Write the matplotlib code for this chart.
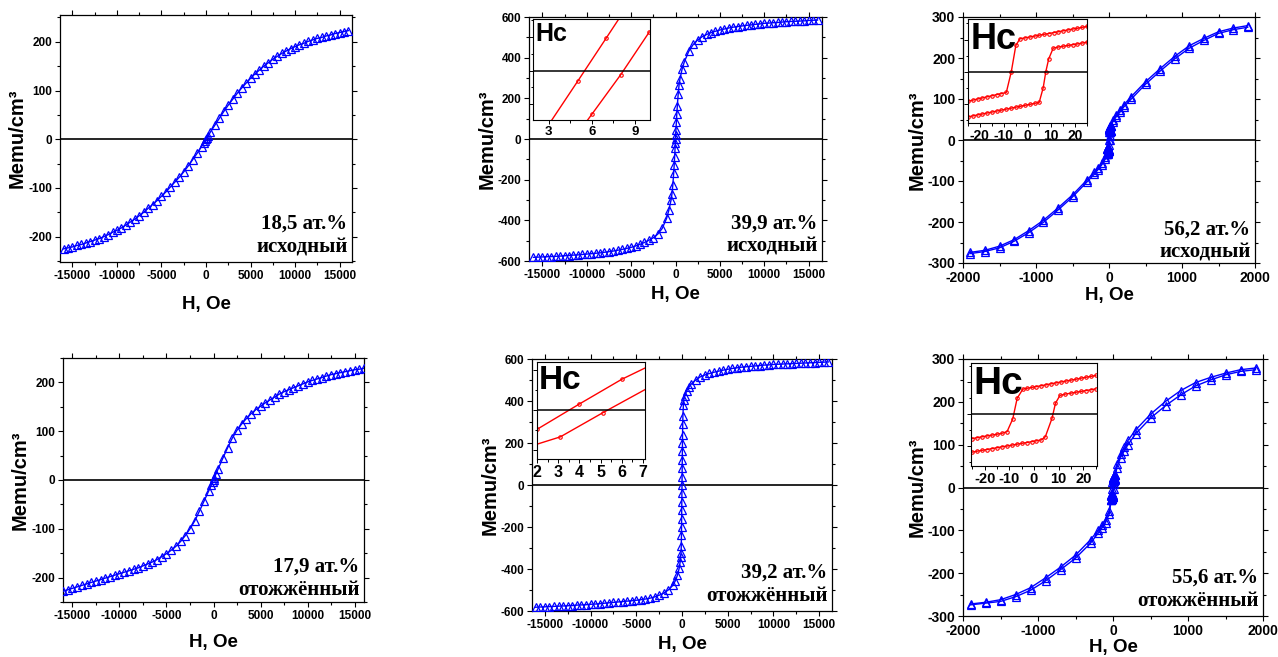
import matplotlib
matplotlib.use("Agg")
import matplotlib.pyplot as plt
from matplotlib.ticker import MultipleLocator, AutoMinorLocator

plt.rcParams['font.family'] = ['Liberation Sans', 'DejaVu Sans']
plt.rcParams['font.weight'] = 'bold'
plt.rcParams['axes.unicode_minus'] = False

# ---------------- data ----------------
# panel 1: 18,5 at.% as-deposited
h1 = [-16000, -15500, -15000, -14500, -14000, -13500, -13000, -12500, -12000, -11500,
      -11000, -10500, -10000, -9500, -9000, -8500, -8000, -7500, -7000, -6500,
      -6000, -5500, -5000, -4500, -4000, -3500, -3000, -2500, -2000, -1500,
      -1000, -500, -250, -100, 0, 100, 250, 500, 1000, 1500,
      2000, 2500, 3000, 3500, 4000, 4500, 5000, 5500, 6000, 6500,
      7000, 7500, 8000, 8500, 9000, 9500, 10000, 10500, 11000, 11500,
      12000, 12500, 13000, 13500, 14000, 14500, 15000, 15500, 16000]
m1 = [-225, -223, -221, -218, -216, -213, -210, -207, -204, -200,
      -196, -191, -187, -182, -176, -170, -164, -157, -150, -142,
      -134, -126, -117, -108, -98, -88, -78, -67, -55, -42,
      -29, -15, -8, -3, 0, 3, 7, 15, 29, 43,
      57, 70, 82, 94, 105, 115, 125, 134, 142, 150,
      157, 164, 170, 176, 181, 186, 190, 194, 197, 201,
      204, 207, 209, 212, 214, 217, 219, 221, 223]

# panel 4: 17,9 at.% annealed
h4 = [-16000, -15500, -15000, -14500, -14000, -13500, -13000, -12500, -12000, -11500,
      -11000, -10500, -10000, -9500, -9000, -8500, -8000, -7500, -7000, -6500,
      -6000, -5500, -5000, -4500, -4000, -3500, -3000, -2500, -2000, -1500,
      -1000, -500, -250, -100, 0, 100, 250, 500, 1000, 1500,
      2000, 2500, 3000, 3500, 4000, 4500, 5000, 5500, 6000, 6500,
      7000, 7500, 8000, 8500, 9000, 9500, 10000, 10500, 11000, 11500,
      12000, 12500, 13000, 13500, 14000, 14500, 15000, 15500, 16000]
m4 = [-228, -225, -222, -219, -216, -213, -210, -207, -204, -201,
      -198, -195, -192, -189, -186, -183, -180, -176, -172, -168,
      -163, -157, -151, -144, -136, -126, -114, -100, -84, -64,
      -43, -22, -11, -4, 0, 4, 12, 23, 45, 66,
      86, 102, 115, 126, 136, 144, 151, 158, 164, 170,
      176, 181, 185, 189, 193, 197, 201, 204, 207, 210,
      213, 216, 218, 220, 222, 224, 226, 227, 229]

# panel 2: 39,9 at.% as-deposited
h2 = [-16000, -15500, -15000, -14500, -14000, -13500, -13000, -12500, -12000, -11500,
      -11000, -10500, -10000, -9500, -9000, -8500, -8000, -7500, -7000, -6500,
      -6000, -5500, -5000, -4500, -4000, -3500, -3000, -2500, -2000, -1500,
      -1000, -750, -500, -400, -300, -200, -150, -100, -50, -25,
      0, 25, 50, 100, 150, 200, 300, 400, 500, 750,
      1000, 1500, 2000, 2500, 3000, 3500, 4000, 4500, 5000, 5500,
      6000, 6500, 7000, 7500, 8000, 8500, 9000, 9500, 10000, 10500,
      11000, 11500, 12000, 12500, 13000, 13500, 14000, 14500, 15000, 15500, 16000]
m2 = [-582, -581, -580, -579, -578, -577, -576, -574, -573, -571,
      -570, -568, -566, -564, -562, -560, -557, -554, -551, -547,
      -543, -538, -533, -526, -518, -509, -498, -486, -468, -440,
      -390, -350, -300, -270, -225, -165, -130, -90, -45, -22,
      0, 22, 45, 85, 125, 160, 220, 265, 295, 345,
      380, 432, 465, 487, 503, 514, 523, 530, 536, 541,
      546, 550, 553, 556, 559, 561, 564, 566, 569, 570,
      572, 573, 575, 577, 578, 579, 580, 581, 583, 584, 585]

# panel 5: 39,2 at.% annealed
h5 = [-16000, -15500, -15000, -14500, -14000, -13500, -13000, -12500, -12000, -11500,
      -11000, -10500, -10000, -9500, -9000, -8500, -8000, -7500, -7000, -6500,
      -6000, -5500, -5000, -4500, -4000, -3500, -3000, -2500, -2000, -1500,
      -1000, -750, -500, -300, -200, -150, -100, -80, -60, -50,
      -40, -30, -20, -10, 0, 10, 20, 30, 40, 50,
      60, 80, 100, 150, 200, 300, 500, 750, 1000, 1500,
      2000, 2500, 3000, 3500, 4000, 4500, 5000, 5500, 6000, 6500,
      7000, 7500, 8000, 8500, 9000, 9500, 10000, 10500, 11000, 11500,
      12000, 12500, 13000, 13500, 14000, 14500, 15000, 15500, 16000]
m5 = [-582, -581, -580, -579, -578, -577, -576, -575, -574, -572,
      -571, -570, -568, -567, -565, -563, -561, -559, -557, -555,
      -553, -551, -549, -546, -543, -539, -533, -525, -515, -500,
      -478, -458, -430, -395, -365, -345, -322, -290, -240, -200,
      -160, -120, -80, -40, 0, 40, 80, 120, 160, 200,
      240, 290, 330, 380, 405, 425, 447, 465, 480, 500,
      515, 524, 531, 537, 542, 547, 551, 555, 558, 561,
      563, 565, 567, 569, 571, 572, 574, 575, 576, 577,
      578, 579, 580, 581, 582, 583, 584, 585, 586]

# insets of panels 2 and 5 (Hc region)
in2_a_h = [3, 5, 7, 9]
in2_a_m = [-3.2, -0.65, 1.92, 4.5]
in2_b_h = [4, 6, 8, 10]
in2_b_m = [-4.9, -2.59, -0.26, 2.28]
in5_a_h = [2, 4, 6, 8]
in5_a_m = [-1.2, 0.38, 1.92, 3.2]
in5_b_h = [1.1, 3.1, 5.1, 7.2]
in5_b_m = [-2.5, -1.67, -0.17, 1.35]

# panel 3: 56,2 at.% as-deposited, far-field points of both branches
far_pos_h = [1900, 1700, 1500, 1300, 1100, 900, 700, 500, 300, 200, 150, 100, 50]
far_neg_h = [-50, -100, -150, -200, -300, -500, -700, -900, -1100, -1300, -1500, -1700, -1900]
p3_desc_pos = [279, 273, 264, 248, 230, 204, 174, 142, 105, 85, 73, 62, 48]
p3_desc_neg = [-42, -57, -68, -78, -97, -134, -166, -196, -221, -243, -259, -269, -274]
p3_asc_pos = [275, 269, 260, 243, 224, 198, 168, 136, 99, 80, 68, 57, 44]
p3_asc_neg = [-46, -61, -72, -83, -102, -139, -171, -201, -226, -247, -263, -272, -277]
# low-field loop of panel 3 (inset)
p3_up_h = [25, 23, 21, 19, 17, 15, 13, 11, 9, 7, 5, 3, 1, -1, -3.2, -4.9, -6.8, -8.9,
           -11, -13, -15, -17, -19, -21, -23, -25]
p3_up_m = [35.2, 34.5, 33.8, 33.2, 32.5, 31.8, 31.1, 30.4, 29.7, 29.1, 28.4, 27.7, 27.0,
           26.3, 25.6, 20.4, 0.0, -16.2, -17.1, -17.9, -18.8, -19.6, -20.5, -21.3, -22.2, -23.0]
p3_lo_h = [-25, -23, -21, -19, -17, -15, -13, -11, -9, -7, -5, -3, -1, 1, 3, 4.9, 6.6, 7.7,
           8.9, 10.8, 13, 15, 17, 19, 21, 23, 25]
p3_lo_m = [-35.2, -34.5, -33.7, -33.0, -32.2, -31.5, -30.7, -30.0, -29.2, -28.5, -27.7, -27.0,
           -26.2, -25.5, -24.7, -24.0, -12.5, 0.0, 9.9, 18.3, 19.2, 19.8, 20.4, 21.0, 21.6, 22.3, 23.0]

# panel 6: 55,6 at.% annealed
p6_desc_pos = [279, 275, 267, 257, 245, 226, 201, 171, 134, 110, 95, 78, 55]
p6_desc_neg = [-55, -75, -88, -100, -122, -158, -186, -211, -234, -250, -262, -268, -272]
p6_asc_pos = [275, 271, 263, 251, 237, 216, 191, 162, 125, 100, 86, 70, 45]
p6_asc_neg = [-62, -82, -95, -107, -130, -165, -192, -218, -240, -255, -266, -270, -274]
p6_up_h = [25, 23, 21, 19, 17, 15, 13, 11, 9, 7, 5, 3, 1, -1, -3, -4.5, -6.8, -8.6,
           -10.9, -13, -15, -17, -19, -21, -23, -25]
p6_up_m = [29.8, 29.1, 28.4, 27.7, 26.9, 26.2, 25.5, 24.8, 24.1, 23.4, 22.6, 21.9, 21.2,
           20.5, 19.8, 19.2, 12.2, -3.9, -13.8, -15.1, -15.8, -16.5, -17.1, -17.8, -18.5, -19.2]
p6_lo_h = [-25, -23, -21, -19, -17, -15, -13, -11, -9, -7, -5, -3, -1, 1, 3, 4.6, 7.3, 8.7,
           10.5, 12.5, 15, 17, 19, 21, 23, 25]
p6_lo_m = [-29.7, -29.0, -28.3, -27.7, -27.0, -26.3, -25.6, -25.0, -24.3, -23.6, -22.9, -22.3,
           -21.6, -20.9, -20.2, -17.7, -3.4, 8.3, 14.3, 15.3, 16.1, 16.8, 17.4, 18.1, 18.7, 19.4]

labels = ["18,5 ат.%\nисходный", "39,9 ат.%\nисходный", "56,2 ат.%\nисходный",
          "17,9 ат.%\nотожжённый", "39,2 ат.%\nотожжённый", "55,6 ат.%\nотожжённый"]

# ---------------- figure ----------------
W, H = 1278, 657
fig = plt.figure(figsize=(W / 100, H / 100), dpi=100)


def add_ax(l, t, r, b):
    return fig.add_axes([l / W, 1 - b / H, (r - l) / W, (b - t) / H])


blue = '#0000ff'
red = '#ff0000'


def main_panel(box, hs, ms, xlim, ylim, xmaj, ymaj, tsize, xpad, label, ty=0.02):
    ax = add_ax(*box)
    for h, m in zip(hs, ms):
        ax.plot(h, m, color=blue, lw=1.0, marker='^', ms=5.5, mfc='none',
                mec=blue, mew=0.9, zorder=3)
    ax.axhline(0, color='black', lw=1.2, zorder=2)
    ax.set_xlim(*xlim)
    ax.set_ylim(*ylim)
    ax.xaxis.set_major_locator(MultipleLocator(xmaj))
    ax.xaxis.set_minor_locator(MultipleLocator(xmaj / 2))
    ax.yaxis.set_major_locator(MultipleLocator(ymaj))
    ax.yaxis.set_minor_locator(MultipleLocator(ymaj / 2))
    ax.tick_params(which='both', direction='out', top=True, right=True, width=0.8)
    ax.tick_params(which='major', length=3.5, labelsize=tsize, pad=2)
    ax.tick_params(which='minor', length=2)
    for sp in ax.spines.values():
        sp.set_linewidth(0.9)
    ax.set_xlabel('H, Oe', fontsize=13.5, fontweight='bold', labelpad=xpad)
    ax.set_ylabel('Memu/cm³', fontsize=14.5, fontweight='bold', labelpad=1)
    ax.text(0.985, ty, label, transform=ax.transAxes, ha='right', va='bottom',
            multialignment='right', fontsize=15, fontweight='bold',
            family=['Liberation Serif', 'DejaVu Serif'], linespacing=1.2, zorder=5)
    return ax


def inset(box, branches, xlim, ylim, xmaj, tsize, hc_size):
    ax = add_ax(*box)
    ax.set_zorder(10)
    for h, m in branches:
        ax.plot(h, m, color=red, lw=1.0, marker='o', ms=2.5, mfc='none', mec=red, mew=0.8)
    ax.axhline(0, color='black', lw=1.1)
    ax.set_xlim(*xlim)
    ax.set_ylim(*ylim)
    ax.xaxis.set_major_locator(MultipleLocator(xmaj))
    ax.xaxis.set_minor_locator(AutoMinorLocator(2))
    ax.yaxis.set_minor_locator(AutoMinorLocator(2))
    ax.tick_params(which='both', direction='out', width=0.7)
    ax.tick_params(which='major', length=3, labelsize=tsize, pad=1.5)
    ax.tick_params(which='minor', length=1.8)
    ax.tick_params(axis='y', labelleft=False)
    ax.text(0.02, 0.97, 'Hc', transform=ax.transAxes, ha='left', va='top',
            fontsize=hc_size, fontweight='bold')
    return ax


# top row
main_panel((60, 15, 352, 262), [h1], [m1], (-16400, 16400), (-252, 255),
           5000, 100, 8.5, 10, labels[0])
main_panel((529, 17, 822, 261), [h2], [m2], (-16500, 16500), (-600, 600),
           5000, 200, 8.5, 4, labels[1])
main_panel((963, 17, 1255, 263),
           [far_pos_h + p3_up_h + far_neg_h, far_neg_h[::-1] + p3_lo_h + far_pos_h[::-1]],
           [p3_desc_pos + p3_up_m + p3_desc_neg, p3_asc_neg[::-1] + p3_lo_m + p3_asc_pos[::-1]],
           (-2000, 2000), (-300, 300), 1000, 100, 10, 2, labels[2], ty=0.0)

# bottom row
main_panel((63, 358, 364, 602), [h4], [m4], (-16000, 16000), (-250, 250),
           5000, 100, 8.5, 9, labels[3], ty=0.01)
main_panel((532, 359, 832, 611), [h5], [m5], (-16400, 16400), (-600, 600),
           5000, 200, 8.5, 4, labels[4])
main_panel((963, 359, 1263, 616),
           [far_pos_h + p6_up_h + far_neg_h, far_neg_h[::-1] + p6_lo_h + far_pos_h[::-1]],
           [p6_desc_pos + p6_up_m + p6_desc_neg, p6_asc_neg[::-1] + p6_lo_m + p6_asc_pos[::-1]],
           (-2000, 2000), (-300, 300), 1000, 100, 10, 1, labels[5])

# insets
inset((533, 19, 650, 120), [(in2_a_h, in2_a_m), (in2_b_h, in2_b_m)],
      (1.9, 10.05), (-2.93, 3.05), 3, 9.5, 18)
inset((968, 19, 1087, 123), [(p3_up_h, p3_up_m), (p3_lo_h, p3_lo_m)],
      (-25, 25), (-40, 41), 10, 10, 26)
inset((537, 362, 645, 459), [(in5_a_h, in5_a_m), (in5_b_h, in5_b_m)],
      (2, 7.1), (-3.05, 3.0), 1, 11.5, 24)
inset((971, 363, 1097, 466), [(p6_up_h, p6_up_m), (p6_lo_h, p6_lo_m)],
      (-25.5, 25.5), (-40.5, 39.5), 10, 10.5, 28)

fig.savefig('out.png', dpi=100)
